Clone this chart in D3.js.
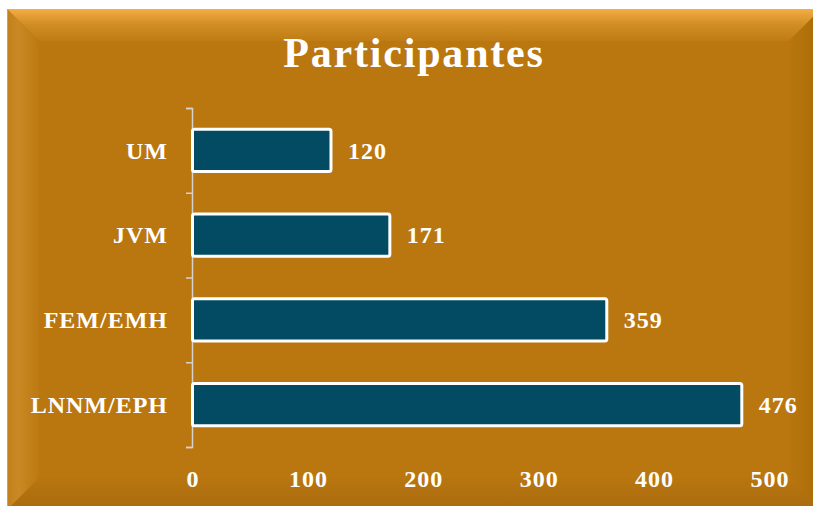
<!doctype html>
<html>
<head>
<meta charset="utf-8">
<title>Participantes</title>
<style>
  body { margin: 0; background: #fff; }
  svg text { font-family: "Liberation Serif", "Times New Roman", serif; font-weight: bold; fill: #fff; }
</style>
</head>
<body>
<div id="chart"></div>
<script src="https://cdn.jsdelivr.net/npm/d3@7"></script>
<script>
// datos
var categories = ["UM", "JVM", "FEM/EMH", "LNNM/EPH"];
var values = [120, 171, 359, 476];
var xTicks = [0, 100, 200, 300, 400, 500];
var titleText = "Participantes";

var W = 813, H = 506;
var svg = d3.select("#chart").append("svg").attr("width", W).attr("height", H);

// marco biselado
var fx0 = 7, fy0 = 9, fx1 = 821, fy1 = 510, bw = 32;
var defs = svg.append("defs");

function grad(id, x1, y1, x2, y2, stops) {
  var g = defs.append("linearGradient").attr("id", id)
    .attr("x1", x1).attr("y1", y1).attr("x2", x2).attr("y2", y2);
  stops.forEach(function(s) {
    g.append("stop").attr("offset", s[0]).attr("stop-color", s[1]);
  });
}
grad("gTop", 0, 0, 0, 1, [[0, "#f5ae48"], [0.15, "#eaa23a"], [0.5, "#cf8d24"], [1, "#bf7c14"]]);
grad("gLeft", 0, 0, 1, 0, [[0, "#c2801a"], [0.35, "#ca8924"], [1, "#bc7912"]]);
grad("gRight", 0, 0, 1, 0, [[0, "#b97610"], [0.6, "#b07008"], [1, "#a96905"]]);
grad("gBottom", 0, 0, 0, 1, [[0, "#b9760f"], [1, "#a86b10"]]);

svg.append("rect").attr("x", fx0).attr("y", fy0)
  .attr("width", fx1 - fx0).attr("height", fy1 - fy0).attr("fill", "#bb770f");

function poly(pts, fill) {
  svg.append("polygon").attr("points", pts.map(function(p) { return p.join(","); }).join(" "))
    .attr("fill", fill);
}
poly([[fx0, fy0], [fx1, fy0], [fx1 - bw, fy0 + bw], [fx0 + bw, fy0 + bw]], "url(#gTop)");
poly([[fx0, fy0], [fx0 + bw, fy0 + bw], [fx0 + bw, fy1 - bw], [fx0, fy1]], "url(#gLeft)");
poly([[fx1, fy0], [fx1, fy1], [fx1 - bw, fy1 - bw], [fx1 - bw, fy0 + bw]], "url(#gRight)");
poly([[fx0, fy1], [fx0 + bw, fy1 - bw], [fx1 - bw, fy1 - bw], [fx1, fy1]], "url(#gBottom)");
svg.append("line").attr("x1", fx0).attr("x2", fx1).attr("y1", fy0 + 0.5).attr("y2", fy0 + 0.5)
  .attr("stroke", "#d2b083").attr("stroke-width", 1);
svg.append("line").attr("x1", fx0 + 0.5).attr("x2", fx0 + 0.5).attr("y1", fy0).attr("y2", fy1)
  .attr("stroke", "#c9a072").attr("stroke-width", 1);

// titulo
svg.append("text").attr("x", 414).attr("y", 67)
  .attr("text-anchor", "middle")
  .attr("font-size", 42)
  .attr("letter-spacing", 1.8)
  .text(titleText);

// escalas
var x = d3.scaleLinear().domain([0, 500]).range([192.5, 769.5]);
var y = d3.scaleBand().domain(categories).range([108, 447])
  .paddingInner(0.5).paddingOuter(0.25);
var yEdges = d3.scaleLinear().domain([0, categories.length]).range([108, 447]);

// eje vertical con marcas entre categorias
var yAxis = svg.append("g").attr("transform", "translate(192,0)")
  .call(d3.axisLeft(yEdges).tickValues(d3.range(categories.length + 1))
    .tickSize(6).tickFormat(""));
yAxis.selectAll("path, line").attr("stroke", "#d6d2cc").attr("stroke-width", 1.5);

// etiquetas de categorias
var yLabels = svg.append("g").attr("transform", "translate(192,0)")
  .call(d3.axisLeft(y).tickSize(0).tickPadding(24));
yLabels.select(".domain").remove();
yLabels.selectAll("text")
  .attr("font-size", 24).attr("letter-spacing", 1).attr("dy", "0.34em")
  .attr("font-family", null).attr("fill", null);

// eje horizontal
var xAxis = svg.append("g").attr("transform", "translate(0,487)")
  .call(d3.axisBottom(x).tickValues(xTicks).tickSize(0).tickFormat(d3.format("d")));
xAxis.select(".domain").remove();
xAxis.selectAll("text").attr("y", 0).attr("dy", null)
  .attr("font-size", 24).attr("letter-spacing", 1)
  .attr("font-family", null).attr("fill", null);

// barras
svg.selectAll(".bar").data(values).enter().append("rect")
  .attr("class", "bar")
  .attr("x", x(0))
  .attr("y", function(d, i) { return y(categories[i]); })
  .attr("width", function(d) { return x(d) - x(0); })
  .attr("height", y.bandwidth())
  .attr("rx", 2)
  .attr("fill", "#024b63")
  .attr("stroke", "#fff")
  .attr("stroke-width", 3);

// valores
svg.selectAll(".val").data(values).enter().append("text")
  .attr("class", "val")
  .attr("x", function(d) { return x(d) + 17; })
  .attr("y", function(d, i) { return y(categories[i]) + y.bandwidth() / 2; })
  .attr("dy", "0.34em")
  .attr("font-size", 24)
  .attr("letter-spacing", 1)
  .text(function(d) { return d; });
</script>
</body>
</html>
